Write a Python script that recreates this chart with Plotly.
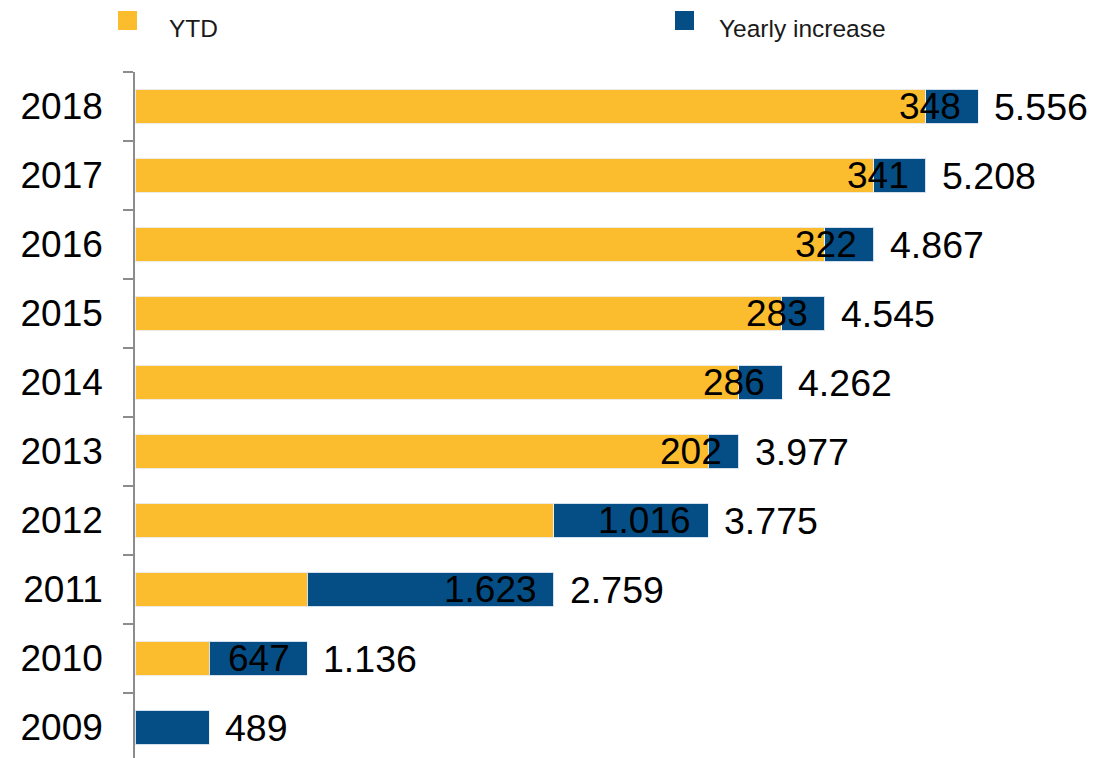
import plotly.graph_objects as go

years = ["2009", "2010", "2011", "2012", "2013", "2014", "2015", "2016", "2017", "2018"]
ytd = [0, 489, 1136, 2759, 3775, 3977, 4262, 4545, 4867, 5208]
increase = [489, 647, 1623, 1016, 202, 286, 283, 322, 341, 348]
totals = [489, 1136, 2759, 3775, 3977, 4262, 4545, 4867, 5208, 5556]
show_increase_label = [False, True, True, True, True, True, True, True, True, True]

YELLOW = "#FBBC2D"
BLUE = "#054E85"
FONT = "Liberation Sans, Arial, sans-serif"

def fmt(v):
    return f"{v:,}".replace(",", ".")

# page body has an 8px default margin; lay out relative to the window
OFF = 8
WIN_W, WIN_H = 1115, 758
W, H = WIN_W - OFF, WIN_H - OFF
ML, MR, MT, MB = 135 - OFF, 0, 72 - OFF, 0
PW, PH = W - ML - MR, H - MT - MB

fig = go.Figure()
fig.add_trace(go.Bar(y=years, x=ytd, orientation="h", name="YTD",
                     marker=dict(color=YELLOW, line=dict(color="rgba(235,240,248,0.9)", width=1)),
                     showlegend=False, hoverinfo="x"))
fig.add_trace(go.Bar(y=years, x=increase, orientation="h", name="Yearly increase",
                     marker=dict(color=BLUE, line=dict(color="rgba(235,240,248,0.9)", width=1)),
                     showlegend=False, hoverinfo="x"))

annotations = []
for i, (a, inc, tot, show) in enumerate(zip(ytd, increase, totals, show_increase_label)):
    end = a + inc
    if show:
        annotations.append(dict(x=end, y=i, xref="x", yref="y", text=fmt(inc),
                                xanchor="right", yanchor="middle", xshift=-15, showarrow=False,
                                font=dict(family=FONT, size=37, color="#000000")))
    annotations.append(dict(x=end, y=i, xref="x", yref="y", text=fmt(tot),
                            xanchor="left", yanchor="middle", xshift=14, showarrow=False,
                            font=dict(family=FONT, size=37.5, color="#000000")))

def px_x(px):
    return (px - OFF - ML) / PW

def px_y(py):
    return (WIN_H - MB - py) / PH

shapes = [
    dict(type="rect", xref="paper", yref="paper", x0=px_x(118), x1=px_x(137), y0=px_y(30), y1=px_y(11),
         fillcolor=YELLOW, line=dict(width=0)),
    dict(type="rect", xref="paper", yref="paper", x0=px_x(675), x1=px_x(694), y0=px_y(30), y1=px_y(11),
         fillcolor=BLUE, line=dict(width=0)),
]
annotations.append(dict(x=px_x(167), y=px_y(28.5), xref="paper", yref="paper", text="YTD",
                        xanchor="left", yanchor="middle", showarrow=False,
                        font=dict(family=FONT, size=24.5, color="#1a1a1a")))
annotations.append(dict(x=px_x(717), y=px_y(28.5), xref="paper", yref="paper", text="Yearly increase",
                        xanchor="left", yanchor="middle", showarrow=False,
                        font=dict(family=FONT, size=24.5, color="#1a1a1a")))

fig.update_layout(
    width=W, height=H,
    margin=dict(l=ML, r=MR, t=MT, b=MB, pad=0),
    barmode="stack", bargap=0.5,
    plot_bgcolor="white", paper_bgcolor="white",
    annotations=annotations, shapes=shapes,
    showlegend=False,
    font=dict(family=FONT, color="#000000"),
)
fig.update_xaxes(range=[0, PW / 0.1518], showgrid=False, zeroline=False, showline=False,
                 showticklabels=False, ticks="")
fig.update_yaxes(type="category", categoryorder="array", categoryarray=years,
                 range=[9.5 - PH / 69.0, 9.5], showgrid=False, zeroline=False,
                 showline=True, linecolor="#8c8c8c", linewidth=1.5,
                 ticks="outside", ticklen=10, tickwidth=1.5, tickcolor="#8c8c8c",
                 tickson="boundaries", ticklabelstandoff=23,
                 tickfont=dict(family=FONT, size=37, color="#000000"))

fig.write_html("out.html")
